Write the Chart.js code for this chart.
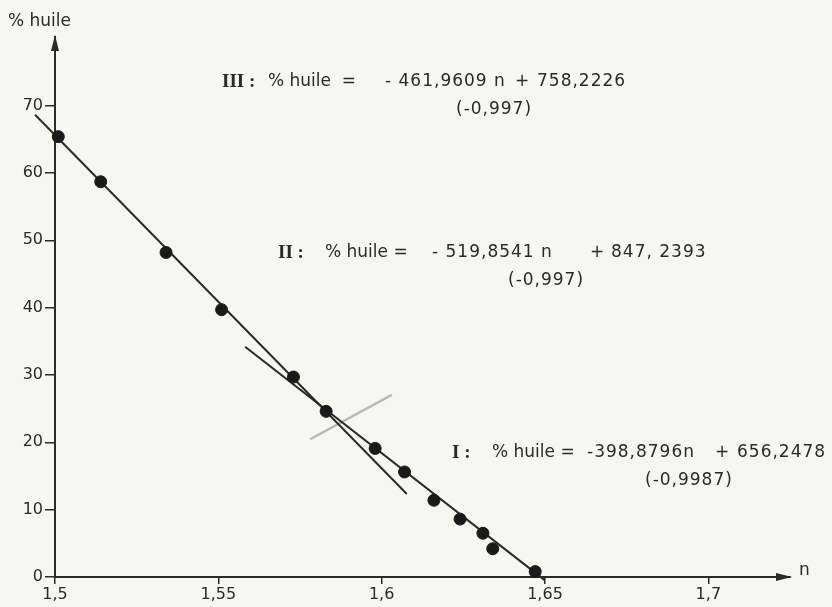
<!DOCTYPE html>
<html>
<head>
<meta charset="utf-8">
<script src="https://cdn.jsdelivr.net/npm/chart.js@4"></script>
<style>
  body { margin: 0; background: #f6f6f3; }
  #wrap { width: 832px; height: 607px; }
</style>
</head>
<body>
<div id="wrap"><canvas id="chart" width="832" height="607"></canvas></div>
<script>
// measured points (refractive index n, % oil)
const nValues = [1.501, 1.514, 1.534, 1.551, 1.573, 1.583, 1.598, 1.607, 1.616, 1.624, 1.631, 1.634, 1.647];
const oilValues = [65.4, 58.7, 48.2, 39.7, 29.7, 24.6, 19.1, 15.6, 11.4, 8.6, 6.5, 4.2, 0.8];

// drawn regression lines, end points
const upperLineN = [1.4939, 1.6077];
const upperLineOil = [68.65, 12.33];
const lowerLineN = [1.5582, 1.650];
const lowerLineOil = [34.2, -0.5];
// faint pencil stroke across the intersection
const pencilN = [1.5781, 1.6031];
const pencilOil = [20.46, 27.04];

const xTicks = [1.5, 1.55, 1.6, 1.65, 1.7];
const xTickLabels = ['1,5', '1,55', '1,6', '1,65', '1,7'];
const yTicks = [0, 10, 20, 30, 40, 50, 60, 70];

const ink = '#2a2a2a';

function pairs(xs, ys) {
    return xs.map((x, i) => ({ x: x, y: ys[i] }));
}

// arrows on the axes, axis titles and the equations
const decorations = {
    id: 'decorations',
    afterDraw(chart) {
        let ctx = chart.ctx;
        let a = chart.chartArea;
        ctx.save();
        ctx.fillStyle = ink;

        // y arrow
        ctx.beginPath();
        ctx.moveTo(a.left, a.top - 2);
        ctx.lineTo(a.left - 4, a.top + 14);
        ctx.lineTo(a.left + 4, a.top + 14);
        ctx.closePath();
        ctx.fill();
        // x arrow
        ctx.beginPath();
        ctx.moveTo(a.right + 2, a.bottom);
        ctx.lineTo(a.right - 14, a.bottom - 4);
        ctx.lineTo(a.right - 14, a.bottom + 4);
        ctx.closePath();
        ctx.fill();

        ctx.textBaseline = 'middle';
        ctx.font = '17px "DejaVu Sans"';
        ctx.fillText('% huile', 8, 22);
        ctx.fillText('n', 799, 571);

        let eq = (roman, x, y, label, lx, parts, corr, cx) => {
            ctx.font = 'bold 19px "Liberation Serif"';
            ctx.fillText(roman, x, y);
            ctx.font = '17px "DejaVu Sans"';
            ctx.fillText(label, lx, y);
            ctx.letterSpacing = '1px';
            parts.forEach(p => ctx.fillText(p[0], p[1], y));
            ctx.fillText(corr, cx, y + 28);
            ctx.letterSpacing = '0px';
        };
        eq('III :', 222, 82, '% huile  =', 268, [['- 461,9609 n', 385], ['+', 515], ['758,2226', 537]], '(-0,997)', 456);
        eq('II :', 278, 253, '% huile =', 325, [['- 519,8541 n', 432], ['+', 590], ['847, 2393', 611]], '(-0,997)', 508);
        eq('I :', 452, 453, '% huile =', 492, [['-398,8796n', 587], ['+', 715], ['656,2478', 737]], '(-0,9987)', 645);
        ctx.restore();
    }
};

let ctx = document.getElementById('chart').getContext('2d');
let chart = new Chart(ctx, {
    type: 'scatter',
    data: {
        datasets: [
            {
                data: pairs(nValues, oilValues),
                backgroundColor: '#1a1a1a',
                borderColor: '#1a1a1a',
                pointRadius: 6,
                clip: false
            },
            {
                type: 'line',
                data: pairs(upperLineN, upperLineOil),
                borderColor: ink,
                borderWidth: 2,
                pointRadius: 0,
                clip: false
            },
            {
                type: 'line',
                data: pairs(lowerLineN, lowerLineOil),
                borderColor: ink,
                borderWidth: 2,
                pointRadius: 0,
                clip: false
            },
            {
                type: 'line',
                data: pairs(pencilN, pencilOil),
                borderColor: '#b9b9b9',
                borderWidth: 2.5,
                pointRadius: 0,
                clip: false
            }
        ]
    },
    options: {
        responsive: false,
        animation: false,
        layout: { padding: { top: 37, right: 42, left: 0, bottom: 0 } },
        plugins: { legend: { display: false }, tooltip: { enabled: false } },
        scales: {
            x: {
                type: 'linear',
                min: 1.5,
                max: 1.725,
                afterBuildTicks: s => { s.ticks = xTicks.map(v => ({ value: v })); },
                afterFit: s => { s.height = 30; },
                ticks: {
                    callback: (v) => xTickLabels[xTicks.indexOf(v)],
                    color: ink,
                    font: { family: 'DejaVu Sans', size: 16 },
                    padding: 1,
                    maxRotation: 0,
                    autoSkip: false
                },
                grid: { drawOnChartArea: false, drawTicks: true, tickLength: 7, color: ink, lineWidth: 1.5 },
                border: { display: true, color: ink, width: 2 }
            },
            y: {
                type: 'linear',
                min: 0,
                max: 80.2,
                afterBuildTicks: s => { s.ticks = yTicks.map(v => ({ value: v })); },
                afterFit: s => { s.width = 55; },
                ticks: {
                    color: ink,
                    font: { family: 'DejaVu Sans', size: 16 },
                    padding: 2,
                    autoSkip: false
                },
                grid: { drawOnChartArea: false, drawTicks: true, tickLength: 10, color: ink, lineWidth: 1.5 },
                border: { display: true, color: ink, width: 2 }
            }
        }
    },
    plugins: [decorations]
});
</script>
</body>
</html>
